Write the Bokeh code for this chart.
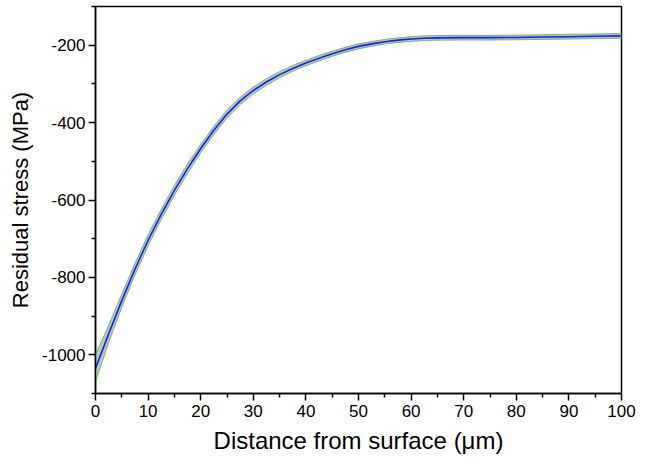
from bokeh.plotting import figure
from bokeh.models import FixedTicker, Range1d, ColumnDataSource
from bokeh.embed import file_html
from bokeh.resources import INLINE

# ---- data ----
depth_um = [0, 2.5, 5, 7.5, 10, 12.5, 15, 17.5, 20, 22.5, 25, 27.5, 30, 32.5, 35, 37.5,
            40, 42.5, 45, 47.5, 50, 52.5, 55, 57.5, 60, 62.5, 65, 70, 75, 80, 85, 90, 95, 100]
stress_fit = [-1035, -946, -860, -779, -704, -637, -575, -519, -467, -420, -378, -344,
              -317, -295, -276, -260, -246, -233.5, -222, -212, -203, -196.5, -191,
              -187, -184, -182, -181, -180.5, -180.5, -180, -179, -178, -177, -176]
stress_upper = [-1000, -924, -843, -764, -690, -624, -562.5, -507, -456, -409.5, -368,
                -334.5, -308, -286.5, -268, -252.5, -239, -226.5, -215.5, -205.5, -196.5,
                -190.5, -185, -181, -178, -176, -175, -174.5, -174.5, -174, -173, -172,
                -171, -170]
stress_lower = [-1070, -968, -877, -794, -718, -650, -587.5, -531, -478, -430.5, -388,
                -353.5, -326, -303.5, -284, -267.5, -253, -240.5, -228.5, -218.5, -209.5,
                -202.5, -197, -193, -190, -188, -187, -186.5, -186.5, -186, -185, -184,
                -183, -182]

x_ticks = [0, 10, 20, 30, 40, 50, 60, 70, 80, 90, 100]
x_tick_labels = ["0", "10", "20", "30", "40", "50", "60", "70", "80", "90", "100"]
x_minor = [5, 15, 25, 35, 45, 55, 65, 75, 85, 95]
y_ticks = [-1000, -800, -600, -400, -200]
y_tick_labels = ["-1000", "-800", "-600", "-400", "-200"]
y_minor = [-1100, -900, -700, -500, -300, -100]

FONT = "Liberation Sans"

src = ColumnDataSource(dict(x=depth_um, y=stress_fit, lo=stress_lower, hi=stress_upper))

p = figure(width=640, height=455, output_backend="svg", toolbar_location=None,
           x_range=Range1d(0, 100), y_range=Range1d(-1100, -100),
           min_border_left=95, min_border_right=19, min_border_top=6, min_border_bottom=62,
           frame_width=526, frame_height=387)

p.varea(x="x", y1="lo", y2="hi", source=src, fill_color="#b3d1b0", fill_alpha=1.0)
p.line(x="x", y="hi", source=src, line_color="#7fae78", line_width=1)
p.line(x="x", y="lo", source=src, line_color="#7fae78", line_width=1)
p.line(x="x", y="y", source=src, line_color="#1a1aff", line_width=1.6)

p.xgrid.visible = False
p.ygrid.visible = False
p.outline_line_color = "black"
p.outline_line_width = 1.5
p.outline_line_alpha = 1.0

p.xaxis.ticker = FixedTicker(ticks=x_ticks, minor_ticks=x_minor)
p.xaxis.major_label_overrides = {t: l for t, l in zip(x_ticks, x_tick_labels)}
p.yaxis.ticker = FixedTicker(ticks=y_ticks, minor_ticks=y_minor)
p.yaxis.major_label_overrides = {t: l for t, l in zip(y_ticks, y_tick_labels)}

for ax in (p.xaxis[0], p.yaxis[0]):
    ax.axis_line_color = "black"
    ax.axis_line_width = 1.5
    ax.major_tick_line_color = "black"
    ax.major_tick_line_width = 1.5
    ax.minor_tick_line_color = "black"
    ax.minor_tick_line_width = 1.5
    ax.major_tick_in = 0
    ax.major_tick_out = 7
    ax.minor_tick_in = 0
    ax.minor_tick_out = 4
    ax.major_label_text_font = FONT
    ax.major_label_text_font_size = "17px"
    ax.major_label_text_color = "black"
    ax.axis_label_text_font = FONT
    ax.axis_label_text_font_style = "normal"
    ax.axis_label_text_color = "black"

p.xaxis.axis_label = "Distance from surface (\u03bcm)"
p.yaxis.axis_label = "Residual stress (MPa)"
p.xaxis.axis_label_text_font_size = "24px"
p.yaxis.axis_label_text_font_size = "22px"
p.xaxis.major_label_standoff = 4
p.yaxis.major_label_standoff = 3
p.xaxis.axis_label_standoff = 7
p.yaxis.axis_label_standoff = 6

open("out.html", "w").write(file_html(p, INLINE))
